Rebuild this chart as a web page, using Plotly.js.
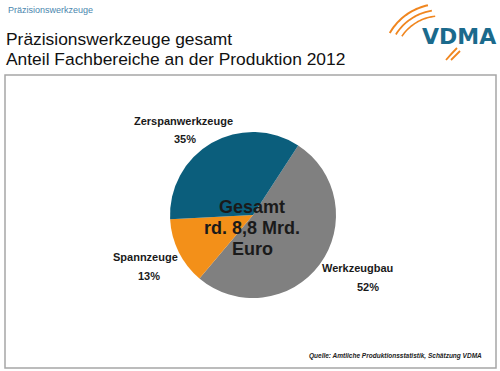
<!DOCTYPE html>
<html><head><meta charset="utf-8">
<script src="https://cdn.plot.ly/plotly-3.0.1.min.js"></script>
<style>html,body{margin:0;padding:0;background:#fff;}#chart{width:500px;height:371px;}</style>
</head><body><div id="chart"></div>
<script>
// Data
const categories = ["Werkzeugbau", "Spannzeuge", "Zerspanwerkzeuge"];
const shares = [52, 13, 35];
const sliceColors = ["#808080", "#F39019", "#0B5E7C"];
const centerLines = ["Gesamt", "rd. 8,8 Mrd.", "Euro"];
const headerText = "Präzisionswerkzeuge";
const titleLines = ["Präzisionswerkzeuge gesamt", "Anteil Fachbereiche an der Produktion 2012"];
const sourceText = "Quelle: Amtliche Produktionsstatistik, Schätzung VDMA";
const logoText = "VDMA";

const W = 500, H = 371;
const px = x => x / W, py = y => 1 - y / H;

// pie geometry (pixels)
const cx = 253, cy = 215, r = 83;

// label placement (pixels) per category
const labelPos = {
  "Werkzeugbau": [[357, 268], [368, 287]],
  "Spannzeuge": [[145, 257], [149, 276]],
  "Zerspanwerkzeuge": [[183, 121], [185, 139]]
};

const annotations = [];
annotations.push({text: headerText, x: px(6), y: py(10), xref: 'paper', yref: 'paper', xanchor: 'left', yanchor: 'middle', showarrow: false, font: {family: 'Liberation Sans, Arial', size: 9, color: '#4A86AE'}});
titleLines.forEach((t, i) => annotations.push({text: t, x: px(4), y: py(39 + i * 20), xref: 'paper', yref: 'paper', xanchor: 'left', yanchor: 'middle', showarrow: false, font: {family: 'Liberation Sans, Arial', size: 17.4, color: '#111'}}));
categories.forEach((c, i) => {
  const p = labelPos[c];
  annotations.push({text: '<b>' + c + '</b>', x: px(p[0][0]), y: py(p[0][1]), xref: 'paper', yref: 'paper', xanchor: 'center', yanchor: 'middle', showarrow: false, font: {family: 'Liberation Sans, Arial', size: 11, color: '#1a1a1a'}});
  annotations.push({text: '<b>' + shares[i] + '%</b>', x: px(p[1][0]), y: py(p[1][1]), xref: 'paper', yref: 'paper', xanchor: 'center', yanchor: 'middle', showarrow: false, font: {family: 'Liberation Sans, Arial', size: 11, color: '#1a1a1a'}});
});
centerLines.forEach((t, i) => annotations.push({text: '<b>' + t + '</b>', x: px(252), y: py(207 + i * 21), xref: 'paper', yref: 'paper', xanchor: 'center', yanchor: 'middle', showarrow: false, font: {family: 'Liberation Sans, Arial', size: 18, color: '#1a1a1a'}}));
annotations.push({text: '<b><i>' + sourceText + '</i></b>', x: px(484), y: py(356), xref: 'paper', yref: 'paper', xanchor: 'right', yanchor: 'middle', showarrow: false, font: {family: 'Liberation Sans, Arial', size: 6.5, color: '#222'}});
annotations.push({text: '<b>' + logoText + '</b>', x: px(459), y: py(36), xref: 'paper', yref: 'paper', xanchor: 'center', yanchor: 'middle', showarrow: false, font: {family: 'DejaVu Sans, Arial', size: 22, color: '#1B6A8C'}});

const shapes = [
  {type: 'rect', xref: 'paper', yref: 'paper', x0: px(5), x1: px(496), y0: py(75), y1: py(368), line: {color: '#A6A6A6', width: 1.5}, fillcolor: 'rgba(0,0,0,0)'}
];
// logo arcs
const rad = d => d * Math.PI / 180;
[[46, 214, 264, 1.6], [52, 212, 261, 1.8], [58, 210, 258, 2]].forEach(a => {
  const ccx = 440, ccy = 62;
  const pts = [];
  for (let k = 0; k <= 20; k++) {
    const ang = a[1] + (a[2] - a[1]) * k / 20;
    pts.push([ccx + a[0] * Math.cos(rad(ang)), ccy + a[0] * Math.sin(rad(ang))]);
  }
  shapes.push({type: 'path', xref: 'paper', yref: 'paper', path: 'M ' + pts.map(p => px(p[0]) + ',' + py(p[1])).join(' L '), line: {color: '#F0861F', width: a[3]}});
});
[[[446, 60], [452, 53], [457, 48]], [[451, 60], [456, 55], [460, 51]]].forEach(s => {
  shapes.push({type: 'path', xref: 'paper', yref: 'paper', path: `M ${px(s[0][0])},${py(s[0][1])} Q ${px(s[1][0])},${py(s[1][1])} ${px(s[2][0])},${py(s[2][1])}`, line: {color: '#F0861F', width: 1.8}});
});

const trace = {
  type: 'pie',
  labels: categories,
  values: shares,
  marker: {colors: sliceColors, line: {width: 0}},
  sort: false,
  direction: 'clockwise',
  rotation: 33,
  textinfo: 'none',
  hoverinfo: 'label+percent',
  showlegend: false,
  domain: {x: [px(cx - r), px(cx + r)], y: [py(cy + r), py(cy - r)]}
};

Plotly.newPlot('chart', [trace], {
  width: W, height: H,
  margin: {l: 0, r: 0, t: 0, b: 0},
  paper_bgcolor: '#fff',
  showlegend: false,
  annotations: annotations,
  shapes: shapes
}, {staticPlot: true});
</script></body></html>
